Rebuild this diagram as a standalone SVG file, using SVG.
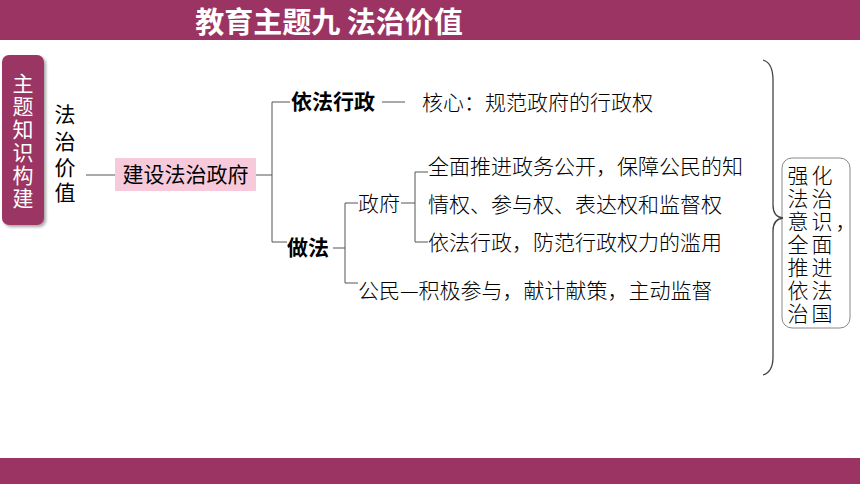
<svg xmlns="http://www.w3.org/2000/svg" width="860" height="484" viewBox="0 0 860 484">
<defs>
<filter id="sh" x="-20%" y="-10%" width="150%" height="130%">
<feGaussianBlur in="SourceAlpha" stdDeviation="1.5"/>
<feOffset dx="2" dy="2" result="b"/>
<feFlood flood-color="#000" flood-opacity="0.35"/>
<feComposite in2="b" operator="in"/>
<feMerge><feMergeNode/><feMergeNode in="SourceGraphic"/></feMerge>
</filter>
</defs>
<style>
.bar{fill:#9b3463}
.t{font-family:"Noto Sans CJK SC","Noto Sans CJK JP",sans-serif;fill:#000}
.lt{font-size:21px;font-weight:300}
.bd{font-size:21px;font-weight:bold}
.ln{stroke:#555;stroke-width:1;fill:none}
</style>
<rect width="860" height="484" fill="#fff"/>
<rect class="bar" x="0" y="0" width="860" height="40"/>
<rect class="bar" x="0" y="458" width="860" height="26"/>
<text x="329" y="33" text-anchor="middle" font-family="'Noto Sans CJK SC',sans-serif" font-size="29" font-weight="bold" fill="#fff">教育主题九 法治价值</text>

<g id="side">
<rect x="2" y="55" width="42" height="170" rx="7" fill="#9b3463" filter="url(#sh)"/>
<g font-family="'Noto Sans CJK SC',sans-serif" font-size="21" fill="#fff" text-anchor="middle">
<text x="23" y="91">主</text><text x="23" y="114">题</text><text x="23" y="137">知</text><text x="23" y="160">识</text><text x="23" y="183">构</text><text x="23" y="206">建</text>
</g>
</g>

<g id="fazhi" class="t" font-size="21" text-anchor="middle">
<text x="65" y="122">法</text><text x="65" y="149">治</text><text x="65" y="175">价</text><text x="65" y="200">值</text>
</g>

<g id="jianshe">
<rect x="115" y="158" width="141" height="33" fill="#f7cadb"/>
<text class="t" x="185.5" y="182" font-size="21" text-anchor="middle">建设法治政府</text>
</g>

<g id="yifa"><text class="t bd" x="291" y="109">依法行政</text></g>
<g id="hexin"><text class="t lt" x="422" y="110">核心：规范政府的行政权</text></g>
<g id="zuofa"><text class="t bd" x="287" y="255">做法</text></g>
<g id="zhengfu"><text class="t lt" x="358" y="211">政府</text></g>
<g id="gov1"><text class="t lt" x="428" y="174">全面推进政务公开，保障公民的知</text><text class="t lt" x="428" y="212">情权、参与权、表达权和监督权</text></g>
<g id="gov2"><text class="t lt" x="428" y="250">依法行政，防范行政权力的滥用</text></g>
<g id="gongmin"><text class="t lt" x="358" y="298">公民—积极参与，献计献策，主动监督</text></g>

<g id="result">
<rect x="782" y="158" width="68" height="170" rx="10" fill="#fff" stroke="#888" stroke-width="1"/>
<g class="t" font-size="21" font-weight="300" letter-spacing="3">
<text x="787.5" y="183">强化</text><text x="787.5" y="206">法治</text><text x="787.5" y="229">意识，</text><text x="787.5" y="252">全面</text><text x="787.5" y="275">推进</text><text x="787.5" y="298">依法</text><text x="787.5" y="321">治国</text>
</g>
</g>

<g id="connectors" class="ln">
<path d="M86,175 H115"/>
<path d="M256,175 H272"/>
<path d="M290,102 H272 V242 H287"/>
<path d="M382,102 H405"/>
<path d="M333,248 H345"/>
<path d="M358,203 H345 V283 H358"/>
<path d="M401,203 H415"/>
<path d="M428,172 H415 V242 H428"/>
<path d="M763,60 Q773,63 773,80 L773,205 Q773,217 783,218 Q773,219 773,231 L773,357 Q773,372 763,375" stroke="#444" stroke-width="1.3"/>
</g>
</svg>
